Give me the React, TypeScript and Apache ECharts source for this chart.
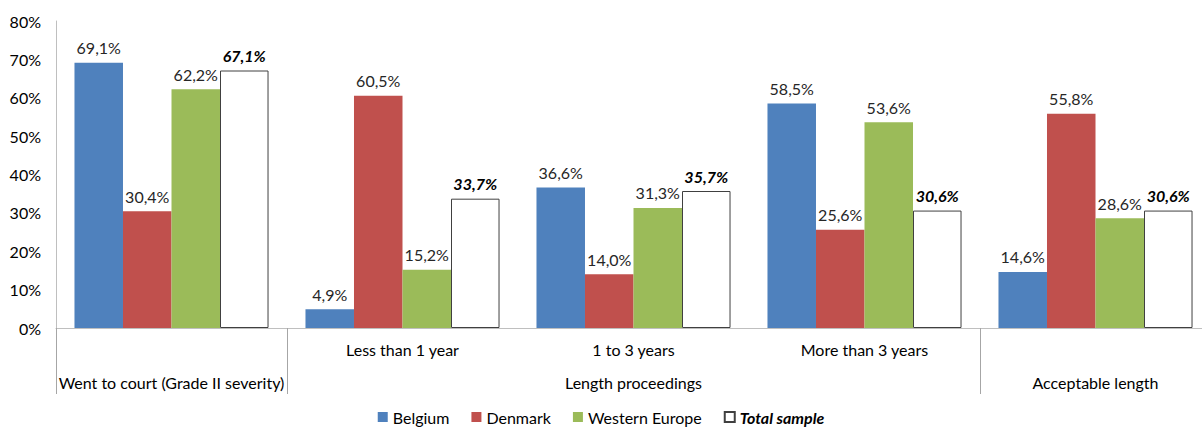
import React, { useEffect, useRef } from "react";
import * as echarts from "echarts";

const subCategories = ["", "Less than 1 year", "1 to 3 years", "More than 3 years", ""];
const groupLabels = ["Went to court (Grade II severity)", "", "Length proceedings", "", "Acceptable length"];
const groupBoundaries = [0, 1, 4];
const seriesNames = ["Belgium", "Denmark", "Western Europe", "Total sample"];
const belgium = [69.1, 4.9, 36.6, 58.5, 14.6];
const denmark = [30.4, 60.5, 14.0, 25.6, 55.8];
const westernEurope = [62.2, 15.2, 31.3, 53.6, 28.6];
const totalSample = [67.1, 33.7, 35.7, 30.6, 30.6];
const yTicks = [0, 10, 20, 30, 40, 50, 60, 70, 80];

const FONT = "Lato, 'Noto Sans', sans-serif";

export default function App() {
  const ref = useRef<HTMLDivElement>(null);
  useEffect(() => {
    if (!ref.current) return;
    const chart = echarts.init(ref.current, null, { renderer: "svg" });
    const fmt = (p: any) => Number(p.value).toFixed(1).replace(".", ",") + "%";
    const colors = ["#4f81bd", "#c0504d", "#9bbb59", "#ffffff"];
    const datasets = [belgium, denmark, westernEurope, totalSample];
    const categories = subCategories.map((s, i) => String(i));
    chart.setOption({
      animation: false,
      textStyle: { fontFamily: FONT },
      grid: {
        left: 56,
        top: 21,
        height: 307,
        width: 1155,
        containLabel: false,
        outerBoundsMode: "none",
      },
      legend: {
        top: 404,
        left: "center",
        padding: 5,
        icon: "rect",
        itemWidth: 10,
        itemHeight: 10,
        itemGap: 22,
        textStyle: { fontSize: 16, color: "#000", fontFamily: FONT },
        data: seriesNames.map((n, i) =>
          i === 3 ? { name: n, textStyle: { fontWeight: "bold", fontStyle: "italic" } } : { name: n }
        ),
      },
      xAxis: {
        type: "category",
        data: categories,
        axisLine: { show: true, lineStyle: { color: "#bfbfbf", width: 1 } },
        axisTick: {
          show: true,
          length: 66,
          lineStyle: { color: "#a6a6a6", width: 1 },
          interval: (i: number) => groupBoundaries.includes(i),
        },
        axisLabel: {
          interval: 0,
          margin: 5,
          fontSize: 16,
          lineHeight: 33,
          color: "#000",
          fontFamily: FONT,
          hideOverlap: false,
          formatter: (v: string) => {
            const i = Number(v);
            return subCategories[i] + "\n" + groupLabels[i];
          },
        },
      },
      yAxis: {
        type: "value",
        min: yTicks[0],
        max: yTicks[yTicks.length - 1],
        interval: 10,
        axisLine: { show: true, lineStyle: { color: "#bfbfbf", width: 1 } },
        axisTick: { show: false },
        splitLine: { show: false },
        axisLabel: { formatter: "{value}%", fontSize: 16, color: "#000", margin: 15, fontFamily: FONT },
      },
      series: seriesNames.map((name, i) => ({
        name,
        type: "bar",
        data: datasets[i],
        barGap: "0%",
        barCategoryGap: "16%",
        itemStyle:
          i === 3
            ? { color: "#ffffff", borderColor: "#404040", borderWidth: 1 }
            : { color: colors[i] },
        label: {
          show: true,
          position: "top",
          distance: 7,
          fontSize: 16,
          fontFamily: FONT,
          color: i === 3 ? "#000" : "#262626",
          fontWeight: i === 3 ? "bold" : "normal",
          fontStyle: i === 3 ? "italic" : "normal",
          formatter: fmt,
        },
      })),
    });
    return () => chart.dispose();
  }, []);
  return (
    <div
      ref={ref}
      style={{ position: "fixed", left: 0, top: 0, width: 1202, height: 428, background: "#fff" }}
    />
  );
}
